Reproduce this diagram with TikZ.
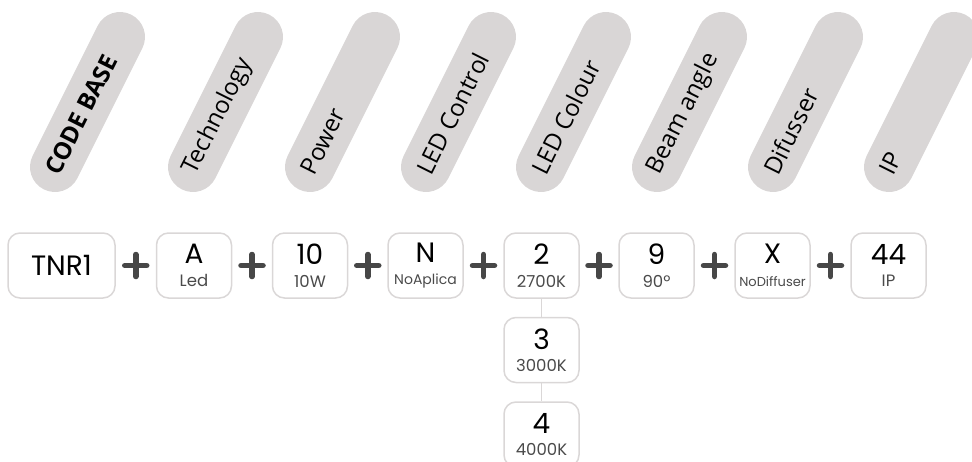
\documentclass[tikz,border=0pt]{standalone}
\usepackage{fontspec}
\usetikzlibrary{calc}
\setmainfont{Poppins}
\newfontfamily\pillfont{Open Sans}
\definecolor{pillgrey}{HTML}{D9D6D6}
\definecolor{boxline}{HTML}{DAD7D7}
\definecolor{plusgrey}{HTML}{474747}
\definecolor{subgrey}{HTML}{4A4A4A}
\newcommand{\cval}[2]{{\fontsize{28}{28}\selectfont #1}\\[6pt]{\color{subgrey}#2}}

\begin{document}
\begin{tikzpicture}[x=1pt,y=-1pt,
    pill/.style={line width=50pt, line cap=round, pillgrey},
    pilltext/.style={font=\pillfont\fontsize{24}{24}\selectfont, rotate=63.4, anchor=west, inner sep=0pt},
    codebox/.style={draw=boxline, line width=1.5pt, rounded corners=12pt, minimum width=75pt, minimum height=65pt, align=center, inner sep=0pt, font=\fontsize{16.5}{16.5}\selectfont},
    plus/.style={line width=5.5pt, plusgrey, line cap=round},
    link/.style={draw=boxline, line width=1.5pt}]
    \useasboundingbox (0,0) rectangle (972,461);
    % pills on top
    \foreach \x/\t in {193/Technology, 310/Power, 426/LED Control, 541/LED Colour, 657/Beam angle, 773/Difusser, 889/IP} {
        \draw [pill] (\x,167) -- ++(65,-130);
        \node [pilltext] at (\x-3,173) {\t};
    }
    \draw [pill] (55,167) -- ++(65,-130);
    \node [pilltext] at (52,173) {\bfseries CODE BASE};
    % code boxes
    \node [codebox, minimum width=107pt, font=\fontsize{28}{28}\selectfont] (base) at (61.5,265.5) {TNR1};
    \node [codebox] (tech) at (194,265.5) {\cval{A}{Led}};
    \node [codebox] (pow) at (310,265.5) {\cval{10}{10W}};
    \node [codebox, font=\fontsize{14}{16.5}\selectfont] (ctrl) at (425.5,265.5) {\cval{N}{NoAplica}};
    \node [codebox] (col2) at (541.5,265.5) {\cval{2}{2700K}};
    \node [codebox] (col3) at (541.5,350) {\cval{3}{3000K}};
    \node [codebox] (col4) at (541.5,434.5) {\cval{4}{4000K}};
    \node [codebox] (beam) at (656.5,265.5) {\cval{9}{90º}};
    \node [codebox, font=\fontsize{13}{16.5}\selectfont] (dif) at (772.5,265.5) {\cval{X}{NoDiffuser}};
    \node [codebox] (ip) at (888.5,265.5) {\cval{44}{IP}};
    \draw [link] (col2) -- (col3);
    \draw [link] (col3) -- (col4);
    % plus signs
    \foreach \a/\b in {base/tech, tech/pow, pow/ctrl, ctrl/col2, col2/beam, beam/dif, dif/ip} {
        \coordinate (m) at ($(\a.east)!0.5!(\b.west)$);
        \draw [plus] ($(m)+(-11,0)$) -- ($(m)+(11,0)$);
        \draw [plus] ($(m)+(0,-11)$) -- ($(m)+(0,11)$);
    }
\end{tikzpicture}
\end{document}
